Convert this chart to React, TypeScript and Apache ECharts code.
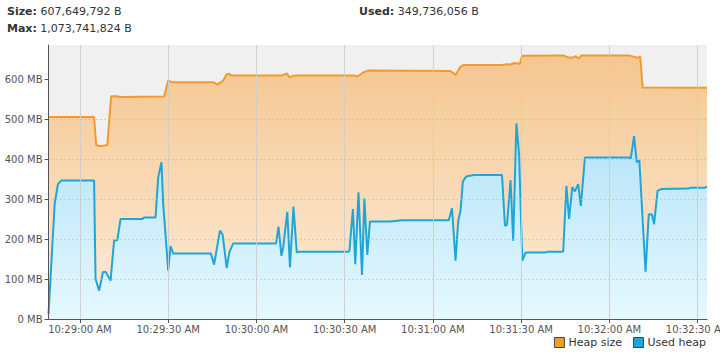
import React, { useEffect, useRef } from "react";
import * as echarts from "echarts";

// seconds relative to 10:29:00 AM
const heapTimes = [-10.7, 4.8, 5.5, 7.0, 9.3, 10.6, 12.5, 13.6, 28.6, 30.0, 31.2, 45.3, 46.7, 48.7, 49.9, 50.7, 51.6, 68.7, 70.4, 71.2, 72.1, 73.5, 92.8, 94.5, 96.4, 97.9, 126.0, 127.7, 129.4, 130.5, 143.5, 145.2, 146.3, 147.6, 149.6, 150.3, 164.3, 166.0, 167.7, 168.6, 169.6, 170.5, 186.5, 188.2, 189.6, 190.5, 191.3, 213.2];
const heapValues = [505, 505, 435, 432, 435, 557, 557, 555, 556, 596, 592, 592, 586, 596, 612, 613, 609, 609, 614, 604, 607, 609, 609, 607, 617, 621, 620, 610, 631, 635, 635, 637, 636, 640, 638, 658, 659, 654, 654, 657, 651, 659, 659, 656, 653, 656, 579, 578];

const usedTimes = [-10.7, -8.6, -7.5, -6.4, 4.8, 5.3, 6.5, 7.8, 8.7, 10.4, 11.6, 12.7, 13.8, 21.2, 21.8, 25.7, 26.6, 27.7, 28.3, 30.0, 30.8, 31.7, 44.5, 45.6, 47.6, 48.5, 49.9, 50.8, 52.1, 66.7, 67.5, 68.5, 69.1, 70.5, 71.4, 72.6, 73.7, 74.6, 91.1, 91.6, 92.8, 93.6, 94.7, 95.9, 96.7, 97.7, 98.6, 105.4, 109.5, 125.4, 126.5, 127.7, 128.6, 129.4, 130.2, 131.3, 133.9, 143.5, 144.5, 145.2, 146.4, 147.3, 148.4, 149.3, 150.4, 151.5, 158.1, 159.0, 164.3, 165.4, 166.3, 167.4, 168.3, 169.4, 170.3, 171.7, 186.5, 187.3, 188.4, 189.3, 190.2, 192.3, 193.4, 194.5, 195.2, 196.4, 197.8, 206.9, 207.5, 212.6, 213.2];
const usedValues = [12, 288, 337, 346, 346, 100, 71, 117, 118, 96, 196, 197, 250, 250, 254, 254, 354, 392, 287, 121, 182, 164, 164, 136, 221, 211, 127, 167, 189, 189, 231, 158, 179, 268, 129, 281, 167, 168, 168, 170, 275, 137, 317, 110, 302, 160, 244, 244, 247, 247, 277, 146, 245, 271, 344, 356, 360, 360, 233, 236, 347, 196, 489, 412, 146, 166, 166, 168, 168, 333, 250, 330, 319, 337, 283, 404, 404, 402, 457, 392, 397, 118, 262, 261, 237, 321, 325, 326, 328, 328, 332];

const yTicks = [0, 100, 200, 300, 400, 500, 600];
// x tick positions, seconds relative to 10:29:00 AM
const xTickSeconds = [0, 30, 60, 90, 120, 150, 180, 210];
const seriesNames = ["Heap size", "Used heap"];
const headerSize = "607,649,792 B";
const headerUsed = "349,736,056 B";
const headerMax = "1,073,741,824 B";

const T0 = new Date(2024, 0, 1, 10, 29, 0).getTime();

function fmtTime(sec: number) {
  const d = new Date(T0 + Math.round(sec) * 1000);
  const h = d.getHours();
  const h12 = h % 12 === 0 ? 12 : h % 12;
  const mm = String(d.getMinutes()).padStart(2, "0");
  const ss = String(d.getSeconds()).padStart(2, "0");
  return `${h12}:${mm}:${ss} ${h < 12 ? "AM" : "PM"}`;
}

const FONT = "DejaVu Sans";

export default function App() {
  const ref = useRef<HTMLDivElement>(null);
  useEffect(() => {
    if (!ref.current) return;
    const chart = echarts.init(ref.current, null, { renderer: "svg" });
    const heapData = heapTimes.map((t, i) => [t, heapValues[i]]);
    const usedData = usedTimes.map((t, i) => [t, usedValues[i]]);
    const headerStyle = {
      fontSize: 11,
      fontFamily: FONT,
      color: "#333",
      fontWeight: "normal" as const,
      rich: { b: { fontSize: 11, fontFamily: FONT, fontWeight: "bold" as const, color: "#333" } },
    };
    chart.setOption({
      animation: false,
      title: [
        { text: `{b|Size:} ${headerSize}`, left: 7, top: 6, padding: 0, textStyle: headerStyle },
        { text: `{b|Used:} ${headerUsed}`, left: 359, top: 6, padding: 0, textStyle: headerStyle },
        { text: `{b|Max:} ${headerMax}`, left: 7, top: 23, padding: 0, textStyle: headerStyle },
      ],
      grid: {
        left: 48.5,
        right: 13,
        top: 45,
        bottom: 40,
        show: true,
        backgroundColor: "#f0f0f0",
        borderWidth: 0,
        containLabel: false,
        outerBoundsMode: "none",
      },
      legend: {
        right: 9,
        bottom: 6,
        icon: "rect",
        itemWidth: 10,
        itemHeight: 10,
        itemGap: 11,
        textStyle: { fontSize: 11, fontFamily: FONT, color: "#333", padding: [0, 0, 0, -1] },
        itemStyle: { borderColor: "#444", borderWidth: 1 },
        data: seriesNames,
      },
      xAxis: {
        type: "value",
        min: -10.7,
        max: 213.2,
        z: 10,
        axisLine: { show: true, onZero: false, lineStyle: { color: "#555", width: 1 } },
        axisTick: { show: true, length: 4, lineStyle: { color: "#555" }, customValues: xTickSeconds },
        splitLine: { show: false },
        axisLabel: {
          fontSize: 10,
          fontFamily: FONT,
          color: "#555",
          margin: 5,
          hideOverlap: false,
          showMinLabel: true,
          showMaxLabel: true,
          customValues: xTickSeconds,
          formatter: (v: number) => fmtTime(v),
        },
      },
      yAxis: {
        type: "value",
        min: 0,
        max: 685,
        interval: 100,
        z: 10,
        axisLine: { show: true, onZero: false, lineStyle: { color: "#555", width: 1 } },
        axisTick: { show: true, length: 4, lineStyle: { color: "#555" }, customValues: yTicks },
        splitLine: {
          show: true,
          showMaxLine: false,
          showMinLine: false,
          lineStyle: { color: "#b9b2aa", type: [1, 3], width: 1 },
        },
        axisLabel: {
          fontSize: 10,
          fontFamily: FONT,
          color: "#555",
          margin: 6,
          customValues: yTicks,
          formatter: (v: number) => `${v} MB`,
        },
      },
      series: [
        {
          name: seriesNames[0],
          type: "line",
          data: heapData,
          showSymbol: false,
          symbol: "none",
          z: 2,
          itemStyle: { color: "#f39a2c" },
          lineStyle: { color: "#f39a2c", width: 2 },
          areaStyle: {
            opacity: 1,
            color: new echarts.graphic.LinearGradient(0, 0, 0, 1, [
              { offset: 0, color: "#f5c690" },
              { offset: 1, color: "#fdedda" },
            ]),
          },
        },
        {
          name: seriesNames[1],
          type: "line",
          data: usedData,
          showSymbol: false,
          symbol: "none",
          z: 3,
          itemStyle: { color: "#1fa6d8" },
          lineStyle: { color: "#1fa6d8", width: 2 },
          areaStyle: {
            opacity: 1,
            color: new echarts.graphic.LinearGradient(0, 0, 0, 1, [
              { offset: 0, color: "#b3e3f8" },
              { offset: 1, color: "#e5f8fe" },
            ]),
          },
          markLine: {
            silent: true,
            symbol: "none",
            label: { show: false },
            lineStyle: { color: "#cdcdcd", type: "solid", width: 1, opacity: 0.9 },
            emphasis: { disabled: true },
            data: xTickSeconds.map((s) => ({ xAxis: s })),
          },
        },
      ],
    });
    return () => chart.dispose();
  }, []);
  return (
    <div
      ref={ref}
      style={{ position: "fixed", left: 0, top: 0, width: 720, height: 359, background: "#fff" }}
    />
  );
}
